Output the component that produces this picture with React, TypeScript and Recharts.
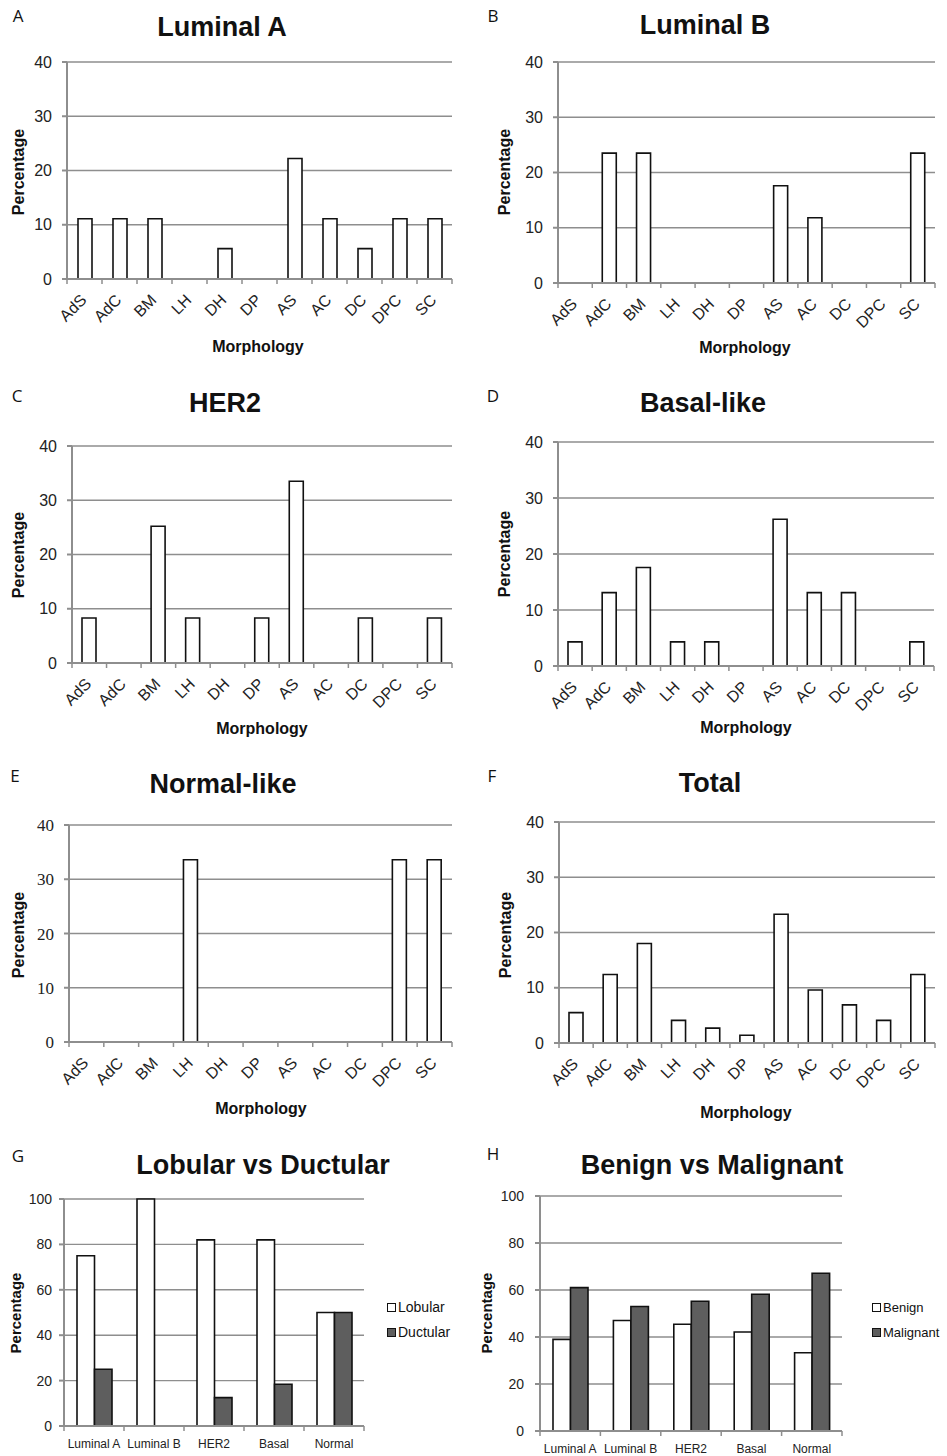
import React from "react";
import { BarChart, Bar, XAxis, YAxis, CartesianGrid } from "recharts";

// morphology panels (percent of cases)
const morphologies = ["AdS", "AdC", "BM", "LH", "DH", "DP", "AS", "AC", "DC", "DPC", "SC"];
const luminalA = [11.1, 11.1, 11.1, 0, 5.6, 0, 22.2, 11.1, 5.6, 11.1, 11.1];
const luminalB = [0, 23.5, 23.5, 0, 0, 0, 17.6, 11.8, 0, 0, 23.5];
const her2 = [8.3, 0, 25.2, 8.3, 0, 8.3, 33.5, 0, 8.3, 0, 8.3];
const basalLike = [4.3, 13.1, 17.6, 4.3, 4.3, 0, 26.2, 13.1, 13.1, 0, 4.3];
const normalLike = [0, 0, 0, 33.6, 0, 0, 0, 0, 0, 33.6, 33.6];
const total = [5.5, 12.4, 18, 4.1, 2.7, 1.4, 23.3, 9.6, 6.9, 4.1, 12.4];
const morphTicks = [0, 10, 20, 30, 40];

// subtype comparison panels
const subtypes = ["Luminal A", "Luminal B", "HER2", "Basal", "Normal"];
const lobular = [75, 100, 82, 82, 50];
const ductular = [25, 0, 12.5, 18.4, 50];
const benign = [39, 47, 45.4, 42.1, 33.3];
const malignant = [61, 53, 55.2, 58.2, 67.1];
const compareTicks = [0, 20, 40, 60, 80, 100];

const SANS = '"Liberation Sans", Arial, sans-serif';
const GRID = "#8e8e8e";
const DARK = "#5e5e5e";

type Box = { axisX: number; rightX: number; topY: number; zeroY: number };

function Txt({ x, y, size, bold, rotate, font, children }: any) {
  return (
    <div
      style={{
        position: "absolute",
        left: x,
        top: y,
        transform: `translate(-50%, -50%)${rotate ? " rotate(-90deg)" : ""}`,
        fontFamily: font || SANS,
        fontSize: size,
        fontWeight: bold ? "bold" : "normal",
        whiteSpace: "nowrap",
        lineHeight: 1,
        color: "#111",
      }}
    >
      {children}
    </div>
  );
}

const boundaryTick =
  (band: number, n: number, rotated: boolean, fontSize: number) => (props: any) => {
    const { x, y, payload, index } = props;
    return (
      <g>
        <line x1={x - band / 2} x2={x - band / 2} y1={y} y2={y + 5} stroke={GRID} strokeWidth={1.5} />
        {index === n - 1 && (
          <line x1={x + band / 2} x2={x + band / 2} y1={y} y2={y + 5} stroke={GRID} strokeWidth={1.5} />
        )}
        {rotated ? (
          <text
            x={x + 3}
            y={y + 22}
            transform={`rotate(-45 ${x + 3} ${y + 22})`}
            textAnchor="end"
            fontFamily={SANS}
            fontSize={fontSize}
            fill="#222"
          >
            {payload.value}
          </text>
        ) : (
          <text x={x} y={y + 22} textAnchor="middle" fontFamily={SANS} fontSize={fontSize} fill="#222">
            {payload.value}
          </text>
        )}
      </g>
    );
  };

function Plot({
  box,
  data,
  categories,
  series,
  ticks,
  xh,
  barSize,
  rotated,
  xFont,
  yFont,
  yFamily,
  yMargin,
}: any) {
  const { axisX, rightX, topY, zeroY } = box as Box;
  const band = (rightX - axisX) / categories.length;
  return (
    <div style={{ position: "absolute", left: axisX - 60, top: topY - 10 }}>
      <BarChart
        width={rightX - axisX + 70}
        height={zeroY - topY + 10 + xh}
        data={data}
        margin={{ top: 10, right: 10, left: 0, bottom: 0 }}
        barGap={0}
        barSize={barSize}
      >
        <CartesianGrid vertical={false} stroke={GRID} strokeWidth={1.4} />
        <XAxis
          dataKey="name"
          height={xh}
          interval={0}
          tickLine={false}
          tickSize={0}
          tickMargin={0}
          stroke={GRID}
          strokeWidth={2}
          tick={boundaryTick(band, categories.length, rotated, xFont)}
        />
        <YAxis
          width={60}
          domain={[0, ticks[ticks.length - 1]]}
          ticks={ticks}
          interval={0}
          tickSize={5}
          tickMargin={yMargin}
          stroke={GRID}
          strokeWidth={2}
          tick={{ fill: "#222", fontSize: yFont, fontFamily: yFamily || SANS }}
        />
        {series.map((s: any) => (
          <Bar
            key={s.key}
            dataKey={s.key}
            fill={s.fill}
            stroke="#111"
            strokeWidth={1.6}
            isAnimationActive={false}
          />
        ))}
      </BarChart>
    </div>
  );
}

function MorphPanel({ letter, title, values, box, pos, serif }: any) {
  const data = morphologies.map((m, i) => ({ name: m, value: values[i] }));
  return (
    <>
      <Txt x={pos.letter[0]} y={pos.letter[1]} size={17} font='"Open Sans", sans-serif'>
        {letter}
      </Txt>
      <Txt x={pos.title[0]} y={pos.title[1]} size={27} bold>
        {title}
      </Txt>
      <Txt x={pos.ylab[0]} y={pos.ylab[1]} size={16} bold rotate>
        Percentage
      </Txt>
      <Txt x={pos.xlab[0]} y={pos.xlab[1]} size={16} bold>
        Morphology
      </Txt>
      <Plot
        box={box}
        data={data}
        categories={morphologies}
        series={[{ key: "value", fill: "#fff" }]}
        ticks={morphTicks}
        xh={60}
        barSize={14}
        rotated
        xFont={16}
        yFont={serif ? 17 : 16}
        yFamily={serif ? '"Liberation Serif", serif' : SANS}
        yMargin={10}
      />
    </>
  );
}

function ComparePanel({ letter, title, names, first, second, box, pos, legendFont }: any) {
  const data = subtypes.map((s, i) => ({ name: s, a: first[i], b: second[i] }));
  const items = [
    { label: names[0], fill: "#fff" },
    { label: names[1], fill: DARK },
  ];
  return (
    <>
      <Txt x={pos.letter[0]} y={pos.letter[1]} size={17} font='"Open Sans", sans-serif'>
        {letter}
      </Txt>
      <Txt x={pos.title[0]} y={pos.title[1]} size={27} bold>
        {title}
      </Txt>
      <Txt x={pos.ylab[0]} y={pos.ylab[1]} size={15} bold rotate>
        Percentage
      </Txt>
      <Plot
        box={box}
        data={data}
        categories={subtypes}
        series={[
          { key: "a", fill: "#fff" },
          { key: "b", fill: DARK },
        ]}
        ticks={compareTicks}
        xh={30}
        barSize={17.5}
        rotated={false}
        xFont={12}
        yFont={14}
        yMargin={pos.yMargin}
      />
      {items.map((it, i) => (
        <div
          key={it.label}
          style={{
            position: "absolute",
            left: pos.legend[0],
            top: pos.legend[1] + i * 25,
            display: "flex",
            alignItems: "center",
            fontFamily: SANS,
            fontSize: legendFont,
            color: "#111",
            lineHeight: 1,
            whiteSpace: "nowrap",
          }}
        >
          <span
            style={{
              display: "inline-block",
              width: 7,
              height: 7,
              border: "1.3px solid #111",
              background: it.fill,
              marginRight: 2,
            }}
          />
          {it.label}
        </div>
      ))}
    </>
  );
}

export default function App() {
  return (
    <div
      style={{
        position: "absolute",
        left: 0,
        top: 0,
        width: 947,
        height: 1456,
        background: "#fff",
        overflow: "hidden",
      }}
    >
      <MorphPanel
        letter="A"
        title="Luminal A"
        values={luminalA}
        box={{ axisX: 67, rightX: 452, topY: 62, zeroY: 279 }}
        pos={{ letter: [18, 15], title: [222, 27], ylab: [19, 172], xlab: [258, 347] }}
      />
      <MorphPanel
        letter="B"
        title="Luminal B"
        values={luminalB}
        box={{ axisX: 558, rightX: 935, topY: 62, zeroY: 283 }}
        pos={{ letter: [493, 15], title: [705, 25], ylab: [505, 172], xlab: [745, 348] }}
      />
      <MorphPanel
        letter="C"
        title="HER2"
        values={her2}
        box={{ axisX: 72, rightX: 452, topY: 446, zeroY: 663 }}
        pos={{ letter: [17, 395], title: [225, 403], ylab: [19, 555], xlab: [262, 729] }}
      />
      <MorphPanel
        letter="D"
        title="Basal-like"
        values={basalLike}
        box={{ axisX: 558, rightX: 934, topY: 442, zeroY: 666 }}
        pos={{ letter: [493, 395], title: [703, 403], ylab: [505, 554], xlab: [746, 728] }}
      />
      <MorphPanel
        letter="E"
        title="Normal-like"
        values={normalLike}
        serif
        box={{ axisX: 69, rightX: 452, topY: 825, zeroY: 1042 }}
        pos={{ letter: [15, 775], title: [223, 784], ylab: [19, 935], xlab: [261, 1109] }}
      />
      <MorphPanel
        letter="F"
        title="Total"
        values={total}
        box={{ axisX: 559, rightX: 935, topY: 822, zeroY: 1043 }}
        pos={{ letter: [492, 775], title: [710, 783], ylab: [506, 935], xlab: [746, 1113] }}
      />
      <ComparePanel
        letter="G"
        title="Lobular vs Ductular"
        names={["Lobular", "Ductular"]}
        first={lobular}
        second={ductular}
        legendFont={14}
        box={{ axisX: 64, rightX: 364, topY: 1199, zeroY: 1426 }}
        pos={{ letter: [18, 1155], title: [263, 1165], ylab: [15, 1313], legend: [387, 1300], yMargin: 7 }}
      />
      <ComparePanel
        letter="H"
        title="Benign vs Malignant"
        names={["Benign", "Malignant"]}
        first={benign}
        second={malignant}
        legendFont={13}
        box={{ axisX: 540, rightX: 842, topY: 1196, zeroY: 1431 }}
        pos={{ letter: [493, 1153], title: [712, 1165], ylab: [486, 1313], legend: [872, 1301], yMargin: 11 }}
      />
    </div>
  );
}
